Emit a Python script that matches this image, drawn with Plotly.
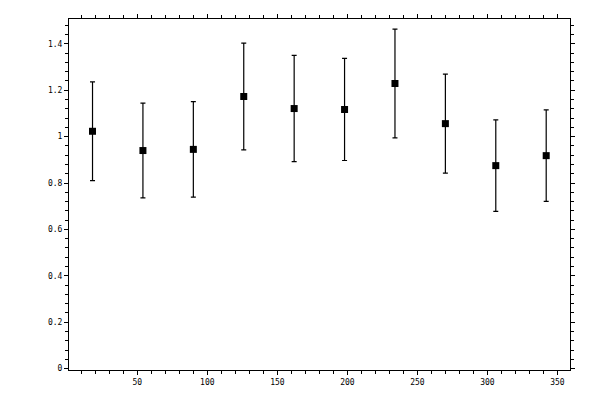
import plotly.graph_objects as go

# bin centres (degrees) and measured ratio with its error
angles = [18, 54, 90, 126, 162, 198, 234, 270, 306, 342]
ratio = [1.023, 0.940, 0.945, 1.173, 1.121, 1.117, 1.229, 1.056, 0.875, 0.918]
ratio_err = [0.213, 0.204, 0.206, 0.230, 0.229, 0.220, 0.234, 0.213, 0.197, 0.197]

x_ticks = [50, 100, 150, 200, 250, 300, 350]
y_ticks = [0, 0.2, 0.4, 0.6, 0.8, 1, 1.2, 1.4]
y_tick_text = ["0", "0.2", "0.4", "0.6", "0.8", "1", "1.2", "1.4"]

x_range = [1.2, 359]
y_range = [-0.006, 1.507]

fig = go.Figure()

fig.add_trace(go.Scatter(
    x=angles,
    y=ratio,
    mode="markers",
    marker=dict(symbol="square", size=7, color="black"),
    error_y=dict(type="data", array=ratio_err, color="black", thickness=1.2, width=2.5),
    showlegend=False,
    hoverinfo="x+y"))

font = dict(family="DejaVu Sans Mono", size=8, color="black")

# main axes: labels, outside ticks and mirrored frame
fig.update_xaxes(
    range=x_range, tickvals=x_ticks, ticks="outside", ticklen=4, tickwidth=1,
    tickcolor="black", showline=True, linecolor="black", linewidth=1,
    mirror="ticks", showgrid=False, zeroline=False, tickfont=font,
    minor=dict(dtick=10, tick0=0, ticks="outside", ticklen=3, tickcolor="black", showgrid=False))
fig.update_yaxes(
    range=y_range, tickvals=y_ticks, ticktext=y_tick_text, ticks="outside", ticklen=4,
    tickwidth=1, tickcolor="black", showline=True, linecolor="black", linewidth=1,
    mirror="ticks", showgrid=False, zeroline=False, tickfont=font,
    minor=dict(dtick=0.04, tick0=0, ticks="outside", ticklen=3, tickcolor="black", showgrid=False))

# overlay axes to draw the inner half of the major ticks (they cross the frame)
fig.update_layout(
    xaxis2=dict(overlaying="x", range=x_range, tickvals=x_ticks, ticks="inside", ticklen=4,
                tickcolor="black", mirror="ticks", showticklabels=False, showline=False,
                showgrid=False, zeroline=False),
    yaxis2=dict(overlaying="y", range=y_range, tickvals=y_ticks, ticks="inside", ticklen=4,
                tickcolor="black", mirror="ticks", showticklabels=False, showline=False,
                showgrid=False, zeroline=False))

# the page adds an 8px body margin, so the figure is made 8px smaller on each side
fig.update_layout(
    width=592, height=392,
    margin=dict(l=61, r=30, t=6, b=30),
    plot_bgcolor="white", paper_bgcolor="white")

fig.write_html("out.html")
